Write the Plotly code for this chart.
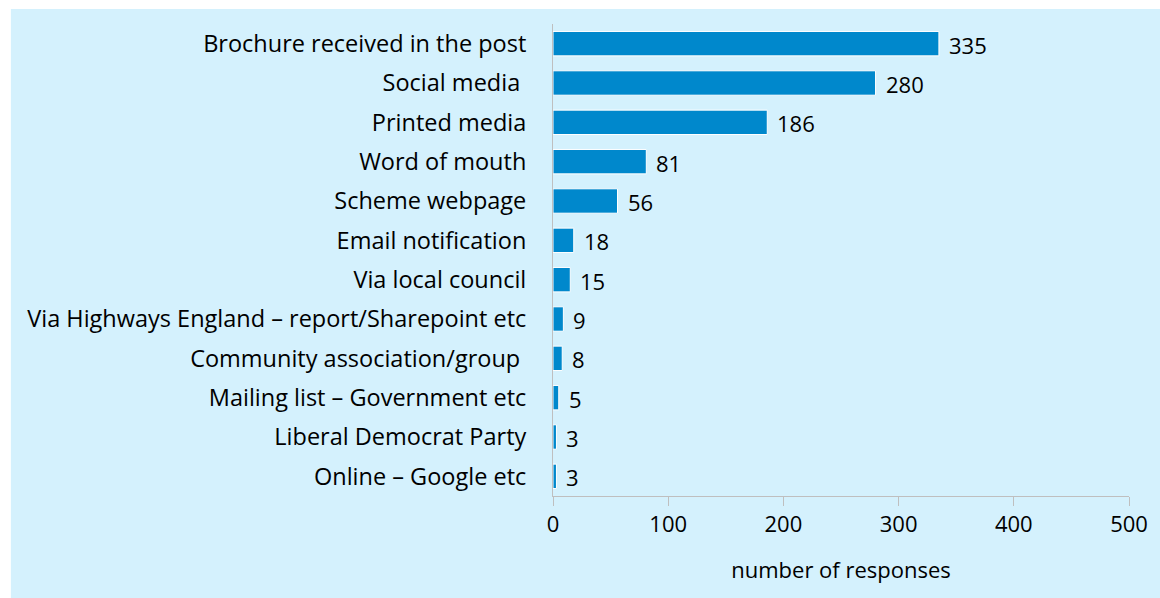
import plotly.graph_objects as go

# Sources through which respondents heard about the scheme
sources = [
    "Brochure received in the post",
    "Social media\u00a0",
    "Printed media",
    "Word of mouth",
    "Scheme webpage",
    "Email notification",
    "Via local council",
    "Via Highways England \u2013 report/Sharepoint etc",
    "Community association/group\u00a0",
    "Mailing list \u2013 Government etc",
    "Liberal Democrat Party",
    "Online \u2013 Google etc",
]
responses = [335, 280, 186, 81, 56, 18, 15, 9, 8, 5, 3, 3]
x_ticks = [0, 100, 200, 300, 400, 500]

PANEL = "#d4f1fd"
BAR = "#0088cc"
AXIS = "#bfbfbf"
FONT = "'Open Sans', 'Noto Sans', sans-serif"
FS = 22
FS_CAT = 23.5

W, H = 1160, 598
L, R, T, B = 553, 29, 24, 102
pw, ph = W - L - R, H - T - B

fig = go.Figure(
    go.Bar(
        x=responses,
        y=sources,
        orientation="h",
        marker=dict(color=BAR, line=dict(color="white", width=1)),
        width=0.62,
        hoverinfo="x+y",
    )
)

# value labels just right of each bar
for s, v in zip(sources, responses):
    fig.add_annotation(
        x=v, y=s, text=str(v), showarrow=False,
        xanchor="left", xshift=8, yshift=-1,
        font=dict(family=FONT, size=FS, color="#000000"),
    )

# light-blue panel behind the whole chart, inset from the page edge
fig.add_shape(
    type="rect", xref="paper", yref="paper", layer="below",
    x0=(9 - L) / pw, x1=(W + 5 - L) / pw,
    y0=-(H + 5 - (T + ph)) / ph, y1=((T + ph) - 9) / ph,
    fillcolor=PANEL, line=dict(width=0),
)

fig.update_layout(
    width=W, height=H,
    margin=dict(l=L, r=R, t=T, b=B, pad=0),
    paper_bgcolor="white",
    plot_bgcolor="rgba(0,0,0,0)",
    showlegend=False,
    font=dict(family=FONT, size=FS, color="#000000"),
    xaxis=dict(
        range=[0, 500], tickvals=x_ticks, ticktext=[str(t) for t in x_ticks],
        showgrid=False, zeroline=False,
        showline=True, linecolor=AXIS, linewidth=1,
        ticks="outside", ticklen=9, tickcolor=AXIS,
        tickfont=dict(family=FONT, size=FS),
        title=dict(text="number of responses", standoff=25,
                   font=dict(family=FONT, size=FS)),
        fixedrange=True,
    ),
    yaxis=dict(
        autorange="reversed", showgrid=False, zeroline=False,
        showline=True, linecolor=AXIS, linewidth=1,
        ticks="", ticklabelstandoff=21,
        tickfont=dict(family=FONT, size=FS_CAT),
        fixedrange=True,
    ),
)

fig.write_html("out.html")
